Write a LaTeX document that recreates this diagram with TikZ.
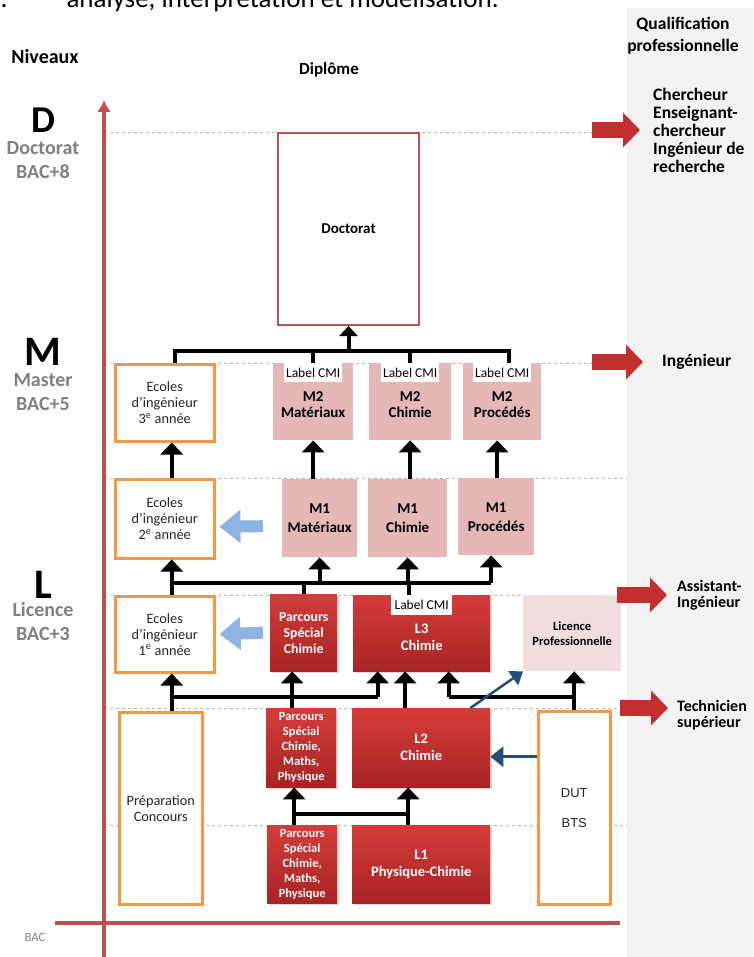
\documentclass[tikz,border=0pt]{standalone}
\usepackage{fontspec}
\setmainfont{Carlito}
\newfontfamily\arialfont{Liberation Sans}
\usetikzlibrary{arrows.meta,calc,shadows}
\newcommand{\fsz}[2]{\fontsize{#1}{#2}\selectfont}

\begin{document}
\begin{tikzpicture}[
  x=1pt, y=-1pt,
  font=\fsz{14}{16},
  wire/.style={line width=4pt, line join=miter},
  arr/.style={wire, -{Triangle[width=22pt,length=12pt]}},
  navyarr/.style={navy, line width=3pt, -{Triangle[width=20pt,length=13pt]}},
  hint/.style={hintblue, line width=12pt, -{Triangle[width=32pt,length=21pt]}},
  qual/.style={qualred, line width=16pt, -{Triangle[width=34pt,length=17pt]}},
  level/.style={dashed, black!28, line width=.8pt},
  box/.style={anchor=north west, inner sep=1pt, align=center},
  ecole/.style={box, draw=ecoleorange, line width=2.5pt, fill=white,
    text=black!85, font=\fsz{14.3}{16}},
  master/.style={box, fill=masterpink, font=\bfseries\fsz{15}{16}},
  lred/.style={box, top color=lredtop, bottom color=lredbot, text=white,
    font=\bfseries\fsz{14.5}{17},
    drop shadow={opacity=.3, shadow xshift=1.5pt, shadow yshift=-1.5pt}},
  parcours/.style={lred, font=\bfseries\fsz{12.5}{15}},
  cmi/.style={anchor=north, fill=white, inner sep=0pt, font=\fsz{13.5}{15},
    minimum height=19pt},
  lvlletter/.style={inner sep=0pt, text height=27pt, text depth=0pt,
    font=\bfseries\fsz{42}{42}},
  lvlname/.style={inner sep=0pt, text=levgray, align=center,
    font=\bfseries\fsz{20}{24}},
  qualtext/.style={anchor=west, inner sep=0pt, align=left,
    font=\bfseries\fsz{17.5}{18}}
]

\definecolor{axisred}{RGB}{192,80,77}
\definecolor{ecoleorange}{RGB}{247,150,70}
\definecolor{masterpink}{RGB}{229,184,183}
\definecolor{lpropink}{RGB}{242,221,220}
\definecolor{lredtop}{RGB}{212,60,58}
\definecolor{lredbot}{RGB}{168,36,36}
\definecolor{hintblue}{RGB}{141,180,226}
\definecolor{navy}{RGB}{31,78,121}
\definecolor{qualred}{RGB}{196,46,46}
\definecolor{colgray}{RGB}{242,242,242}
\definecolor{levgray}{RGB}{128,128,128}

\useasboundingbox (0,0) rectangle (753,957);

% page background and qualification column
\fill[white] (0,0) rectangle (753,957);
\fill[colgray] (627,8) rectangle (753,957);

% cut-off line of the page above
\node[anchor=base east, font=\fsz{27}{30}] (cutn) at (11,8) {n.};
\node[anchor=base west, font=\fsz{27}{30}] (cut) at (63,8)
  {analyse, interprétation et modélisation.};

% level separators
\foreach \ly in {132,363,478,595,708,825}
  \draw[level] (104,\ly) -- (627,\ly);

% axes
\draw[axisred, line width=4pt, -{Latex[width=14pt,length=12pt]}]
  (104,957) -- (104,100);
\draw[axisred, line width=4pt] (55,923) -- (620,923);

% headings and levels
\node[font=\bfseries\fsz{20}{24}] (niv) at (45,57) {Niveaux};
\node[font=\bfseries\fsz{17}{20}] (dip) at (329,70) {Diplôme};
\node[align=center, font=\bfseries\fsz{17.5}{22}] (qualif) at (683,36)
  {Qualification\\professionnelle};

\node[lvlletter, text height=24pt, font=\bfseries\fsz{38}{38}] (lvD)
  at (43,121) {D};
\node[lvlname] (lvDn) at (43,160) {Doctorat\\BAC+8};
\node[lvlletter] (lvM) at (43,352) {M};
\node[lvlname] (lvMn) at (43,392) {Master\\BAC+5};
\node[lvlletter] (lvL) at (43,585) {L};
\node[lvlname] (lvLn) at (43,622) {Licence\\BAC+3};
\node[text=levgray, font=\fsz{12.7}{14}] (bac) at (35,937) {BAC};

% doctorat
\node[box, draw=axisred, line width=2pt, fill=white, font=\bfseries\fsz{15}{17},
  minimum width=141pt, minimum height=192pt] (doc) at (277,132) {Doctorat};

% master 2
\node[ecole, minimum width=99pt, minimum height=77pt] (e3) at (114,363)
  {Ecoles\\d'ingénieur\\3\textsuperscript{e} année};
\node[master, minimum width=80pt, minimum height=77pt] (m2m) at (273,363)
  {\\M2\\Matériaux};
\node[master, minimum width=82pt, minimum height=77pt] (m2c) at (369,363)
  {\\M2\\Chimie};
\node[master, minimum width=78pt, minimum height=77pt] (m2p) at (463,363)
  {\\M2\\Procédés};
\foreach \mb in {m2m,m2c,m2p}
  \node[cmi, minimum width=58pt] (cmi-\mb) at (\mb.north) {Label CMI};

% master 1
\node[ecole, minimum width=99pt, minimum height=79pt] (e2) at (114,478)
  {Ecoles\\d'ingénieur\\2\textsuperscript{e} année};
\node[master, font=\bfseries\fsz{15}{19}, minimum width=75pt,
  minimum height=78pt] (m1m) at (282,479) {M1\\Matériaux};
\node[master, font=\bfseries\fsz{15}{19}, minimum width=79pt,
  minimum height=78pt] (m1c) at (368,479) {M1\\Chimie};
\node[master, font=\bfseries\fsz{15}{19}, minimum width=76pt,
  minimum height=77pt] (m1p) at (458,478) {M1\\Procédés};

% licence 3
\node[ecole, minimum width=99pt, minimum height=76pt] (e1) at (114,595)
  {Ecoles\\d'ingénieur\\1\textsuperscript{e} année};
\node[lred, font=\bfseries\fsz{13.8}{16}, minimum width=67pt,
  minimum height=77pt] (psc3) at (270,594) {Parcours\\Spécial\\Chimie};
\node[lred, minimum width=137pt, minimum height=76pt] (l3) at (353,595)
  {\\L3\\Chimie};
\node[cmi, minimum width=61pt, minimum height=20pt] (cmi-l3) at (l3.north)
  {Label CMI};
\node[box, fill=lpropink, font=\bfseries\fsz{12.5}{15}, minimum width=98pt,
  minimum height=76pt] (lp) at (523,595) {Licence\\Professionnelle};

% licence 2
\node[ecole, minimum width=83pt, minimum height=192pt] (prep) at (118,711)
  {Préparation\\Concours};
\node[parcours, minimum width=70pt, minimum height=79pt] (pscm2) at (266,708)
  {Parcours\\Spécial\\Chimie,\\Maths,\\Physique};
\node[lred, minimum width=138pt, minimum height=79pt] (l2) at (352,708)
  {L2\\Chimie};
\node[ecole, font=\arialfont\fsz{13}{30}, minimum width=72pt,
  minimum height=193pt] (dut) at (537,710) {DUT\\BTS};

% licence 1
\node[parcours, minimum width=70pt, minimum height=78pt] (pscm1) at (267,825)
  {Parcours\\Spécial\\Chimie,\\Maths,\\Physique};
\node[lred, minimum width=138pt, minimum height=78pt] (l1) at (352,825)
  {L1\\Physique-Chimie};

% qualifications
\node[qualtext] (qd) at (653,130)
  {Chercheur\\Enseignant-\\chercheur\\Ingénieur de\\recherche};
\node[qualtext] (qm) at (662,362) {Ingénieur};
\node[qualtext, font=\bfseries\fsz{16}{16.5}] (ql) at (677,595)
  {Assistant-\\Ingénieur};
\node[qualtext, font=\bfseries\fsz{16}{16.5}] (qt) at (677,715)
  {Technicien\\supérieur};

\coordinate (tD) at (592,130);
\coordinate (tM) at (592,362);
\coordinate (tL) at (617,595);
\coordinate (tT) at (620,708);
\draw[qual] (tD) -- ([xshift=-13pt]qd.west);
\draw[qual] (tM) -- ([xshift=-19pt]qm.west);
\draw[qual] (tL) -- ([xshift=-10pt]ql.west);
\draw[qual] (tT) -- ([shift={(-9pt,7pt)}]qt.west);

% L1 -> L2
\coordinate (bJ) at (0,814);
\draw[arr] ([xshift=-13pt]l1.north) -- ([xshift=-13pt]l1.north |- l2.south);
\draw[wire] ([xshift=-13pt]l1.north |- bJ) -- ([xshift=-8pt]pscm1.north |- bJ);
\draw[arr] ([xshift=-8pt]pscm1.north) -- ([xshift=-8pt]pscm1.north |- pscm2.south);
\draw[navyarr] ([yshift=-9pt]dut.west |- l2.east) -- ([yshift=-9pt]l2.east);

% L2 -> L3
\coordinate (bK) at (0,697);
\draw[arr] ([xshift=7pt]e1.south |- prep.north) -- ([xshift=7pt]e1.south);
\draw[wire] ([xshift=7pt]e1.south |- bK) -- ([xshift=-44pt]l3.south |- bK);
\draw[arr] ([xshift=-44pt]l3.south |- bK) -- ([xshift=-44pt]l3.south);
\draw[arr] ([xshift=-9pt]pscm2.north) -- ([xshift=-9pt]pscm2.north |- psc3.south);
\draw[arr] ([xshift=-16pt]l2.north) -- ([xshift=-16pt]l2.north |- l3.south);
\draw[arr] (dut.north) -- (dut.north |- lp.south);
\draw[wire] (dut.north |- bK) -- ([xshift=27pt]l3.south |- bK);
\draw[arr] ([xshift=27pt]l3.south |- bK) -- ([xshift=27pt]l3.south);
\draw[navyarr, line width=2.5pt, -{Triangle[width=17pt,length=12pt]}]
  ([xshift=-20pt]l2.north east) -- (lp.south west);

% L3 -> M1
\coordinate (bL) at (0,583);
\draw[arr] ([xshift=7pt]e1.north) -- ([xshift=7pt]e2.south);
\draw[wire] ([xshift=7pt]e2.south |- bL) -- ([xshift=-5pt]m1p.south |- bL);
\draw[arr] (m1m.south |- bL) -- (m1m.south);
\draw[arr] (m1c.south |- bL) -- (m1c.south);
\draw[arr] ([xshift=-5pt]m1p.south |- bL) -- ([xshift=-5pt]m1p.south);
\draw[wire] (psc3.north) -- (psc3.north |- bL);
\draw[wire] ([xshift=-13pt]l3.north) -- ([xshift=-13pt]l3.north |- bL);
\draw[hint] ([xshift=-7pt]psc3.west) -- ([xshift=4pt]e1.east);

% M1 -> M2
\draw[arr] ([xshift=7pt]e2.north) -- ([xshift=7pt]e3.south);
\draw[arr] (m2m.south |- m1m.north) -- (m2m.south);
\draw[arr] (m2c.south |- m1c.north) -- (m2c.south);
\draw[arr] ([xshift=-5pt]m2p.south |- m1p.north) -- ([xshift=-5pt]m2p.south);
\draw[hint] ([shift={(-19pt,-8pt)}]m1m.west) -- ([shift={(4pt,-8pt)}]e2.east);

% M2 -> Doctorat
\coordinate (bM) at (0,351);
\draw[wire] ([xshift=10pt]e3.north) -- ([xshift=10pt]e3.north |- bM)
  -- ([xshift=7pt]m2p.north |- bM) -- ([xshift=7pt]m2p.north);
\draw[wire] (m2m.north) -- (m2m.north |- bM);
\draw[wire] (m2c.north) -- (m2c.north |- bM);
\draw[wire, -{Triangle[width=18pt,length=10pt]}] (doc.south |- bM) -- (doc.south);

\end{tikzpicture}
\end{document}
